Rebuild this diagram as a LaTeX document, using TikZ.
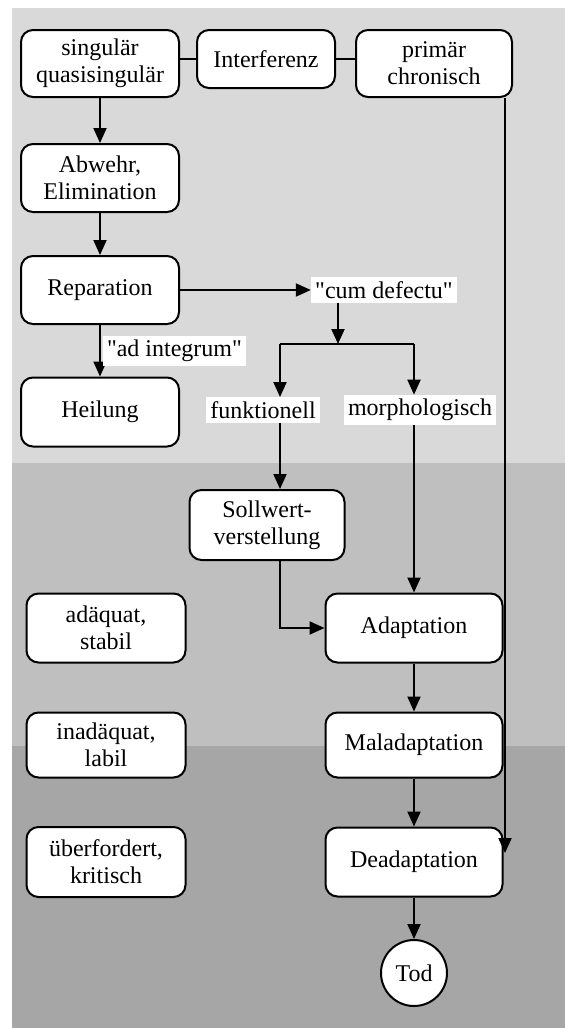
\documentclass[tikz,border=0pt]{standalone}
\usepackage{fontspec}
\setmainfont{Liberation Serif}
\usepackage{tikz}
\usetikzlibrary{shapes,arrows.meta}
\definecolor{zoneA}{RGB}{217,217,217}
\definecolor{zoneB}{RGB}{191,191,191}
\definecolor{zoneC}{RGB}{166,166,166}
\tikzset{
  stage/.style   = {draw, line width=1pt, fill=white, rounded corners=6pt,
                    align=center, inner sep=1pt,
                    font=\fontsize{12}{13.5}\selectfont},
  tag/.style     = {fill=white, inner sep=2pt, font=\fontsize{12}{13.5}\selectfont},
  ende/.style    = {draw, line width=1pt, fill=white, circle, minimum size=33pt,
                    inner sep=0pt, font=\fontsize{12}{13.5}\selectfont},
  arr/.style     = {line width=1pt, -{Triangle[length=7.5pt,width=6.5pt]}},
  link/.style    = {line width=1pt}
}
\newcommand{\stagebox}[5]{
  \node[stage, minimum width=#3, minimum height=#4] (#1) at #2 {#5};
}

\begin{document}
\begin{tikzpicture}[x=0.5pt,y=-0.5pt]
	\useasboundingbox (0,0) rectangle (565,1028);
	% zones
	\fill[white] (0,0) rectangle (565,1028);
	\fill[zoneA] (12,8) rectangle (565,463);
	\fill[zoneB] (12,463) rectangle (565,746);
	\fill[zoneC] (12,746) rectangle (565,1028);
	% top row
	\stagebox{sing}{(100,63.5)}{79pt}{33.5pt}{singulär\\quasisingulär}
	\stagebox{interf}{(266,59)}{69pt}{29pt}{Interferenz}
	\stagebox{prim}{(434,63.5)}{78pt}{33.5pt}{primär\\chronisch}
	% left column
	\stagebox{abw}{(100,178)}{79pt}{34pt}{Abwehr,\\Elimination}
	\stagebox{rep}{(100,290)}{79pt}{34pt}{Reparation}
	\stagebox{heil}{(100,412)}{79pt}{34.5pt}{Heilung}
	\node[tag] (cum) at (384,290) {\textquotedbl cum defectu\textquotedbl};
	\node[tag] (funk) at (263,410) {funktionell};
	\node[tag] (morph) at (420,410) {morphologisch};
	\stagebox{soll}{(267,525)}{77.5pt}{35pt}{Sollwert-\\verstellung}
	% adaptation column
	\stagebox{adapt}{(414,628)}{88.5pt}{34.5pt}{Adaptation}
	\stagebox{mal}{(414,745)}{88.5pt}{32.5pt}{Maladaptation}
	\stagebox{dead}{(414,862)}{88.5pt}{34.5pt}{Deadaptation}
	\node[ende] (tod) at (414,973) {Tod};
	% states
	\stagebox{adq}{(106,628)}{79.5pt}{34.5pt}{adäquat,\\stabil}
	\stagebox{inadq}{(106,745)}{79.5pt}{32.5pt}{inadäquat,\\labil}
	\stagebox{uber}{(106,862)}{79.5pt}{35pt}{überfordert,\\kritisch}
	% connectors
	\coordinate (split) at (338,344);
	\coordinate (fl) at (280,344);
	\coordinate (mr) at (414,344);
	\coordinate (chr) at (505,853);
	\draw[link] (interf.west) -- (interf.west -| sing.east);
	\draw[link] (interf.east) -- (interf.east -| prim.west);
	\draw[arr] (sing) -- (abw);
	\draw[arr] (abw) -- (rep);
	\draw[arr] (rep) -- (heil) node[tag, midway, anchor=west, xshift=1pt] (integ) {\textquotedbl ad integrum\textquotedbl};
	\draw[arr] (rep) -- (cum);
	\draw[arr] (split |- cum.south) -- (split);
	\draw[link] (fl) -- (mr);
	\draw[arr] (fl) -- (fl |- funk.north);
	\draw[arr] (mr) -- (mr |- morph.north);
	\draw[arr] (fl |- funk.south) -- (fl |- soll.north);
	\draw[arr] (fl |- soll.south) |- (adapt.west);
	\draw[arr] (mr |- morph.south) -- (adapt.north);
	\draw[arr] (adapt) -- (mal);
	\draw[arr] (mal) -- (dead);
	\draw[arr] (dead) -- (tod);
	\draw[arr] (chr |- prim.south) -- (chr);
\end{tikzpicture}
\end{document}
